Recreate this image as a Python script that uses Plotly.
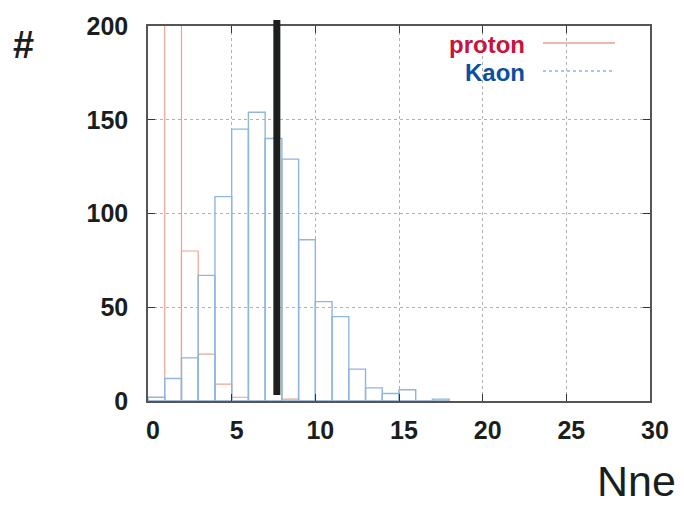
import plotly.graph_objects as go

# bin edges 0..18 (width 1)
bin_centers = [i + 0.5 for i in range(18)]
kaon_counts = [2, 12, 23, 67, 109, 145, 154, 140, 129, 86, 53, 45, 17, 7, 4, 6, 0, 1]
proton_counts = [0, 400, 80, 25, 9, 2, 0, 0, 1, 0, 0, 0, 0, 0, 0, 0, 0, 0]
cut_value = 7.7
x_ticks = [0, 5, 10, 15, 20, 25, 30]
y_ticks = [0, 50, 100, 150, 200]

PROTON_LINE = "#e9a58f"
KAON_LINE = "#8fb6dd"

fig = go.Figure()
fig.add_trace(go.Bar(x=bin_centers, y=proton_counts, width=1,
                     marker=dict(color="rgba(0,0,0,0)", line=dict(color=PROTON_LINE, width=1.2)),
                     name="proton", showlegend=False))
fig.add_trace(go.Bar(x=bin_centers, y=kaon_counts, width=1,
                     marker=dict(color="rgba(0,0,0,0)", line=dict(color=KAON_LINE, width=1.4)),
                     name="Kaon", showlegend=False))

fig.add_shape(type="line", xref="x", yref="paper", x0=cut_value, x1=cut_value,
              y0=(401 - 395) / 375, y1=(401 - 20) / 375,
              line=dict(color="#1c1f1e", width=7))

# legend (custom, text right of line as in reference)
LEG_FONT = "Liberation Sans"
fig.add_annotation(xref="paper", yref="paper", x=(527 - 148) / 502, y=(401 - 45) / 375,
                   xanchor="right", yanchor="middle", showarrow=False, text="<b>proton</b>",
                   font=dict(family=LEG_FONT, size=24, color="#c8143a"))
fig.add_annotation(xref="paper", yref="paper", x=(527 - 148) / 502, y=(401 - 72) / 375,
                   xanchor="right", yanchor="middle", showarrow=False, text="<b>Kaon</b>",
                   font=dict(family=LEG_FONT, size=24, color="#0c4f9e"))
fig.add_shape(type="line", xref="paper", yref="paper", x0=(543 - 148) / 502, x1=(615 - 148) / 502,
              y0=(401 - 43) / 375, y1=(401 - 43) / 375, line=dict(color=PROTON_LINE, width=1.5))
fig.add_shape(type="line", xref="paper", yref="paper", x0=(543 - 148) / 502, x1=(615 - 148) / 502,
              y0=(401 - 71) / 375, y1=(401 - 71) / 375, line=dict(color=KAON_LINE, width=1.5, dash="dot"))

fig.add_annotation(xref="paper", yref="paper", x=(23.5 - 148) / 502, y=(401 - 45) / 375,
                   xanchor="center", yanchor="middle", showarrow=False, text="<b>#</b>",
                   font=dict(family="Liberation Sans", size=38, color="#1a1f1d"))
fig.add_annotation(xref="paper", yref="paper", x=(678 - 148) / 502, y=(401 - 455) / 375,
                   xanchor="right", yanchor="top", showarrow=False, text="Nne",
                   font=dict(family="Liberation Sans", size=43, color="#1a1f1d"))

axis_common = dict(showline=True, linecolor="#555555", linewidth=1.5, mirror="ticks",
                   ticks="inside", ticklen=7, tickcolor="#333333", tickwidth=1.2,
                   showgrid=True, gridcolor="#b0b0b0", griddash="dot", gridwidth=1,
                   zeroline=False,
                   tickfont=dict(family="Liberation Sans", size=25, color="#1a1f1d", weight="bold"))

fig.update_xaxes(range=[0, 30], tickvals=x_ticks, ticklabelstandoff=6, ticklabelshift=5,
                 **axis_common)
fig.update_yaxes(range=[0, 200], tickvals=y_ticks, ticklabelstandoff=13, **axis_common)

fig.update_layout(width=684, height=506, margin=dict(l=148, r=34, t=26, b=105),
                  paper_bgcolor="white", plot_bgcolor="white", barmode="overlay",
                  showlegend=False)

fig.write_html("out.html")
